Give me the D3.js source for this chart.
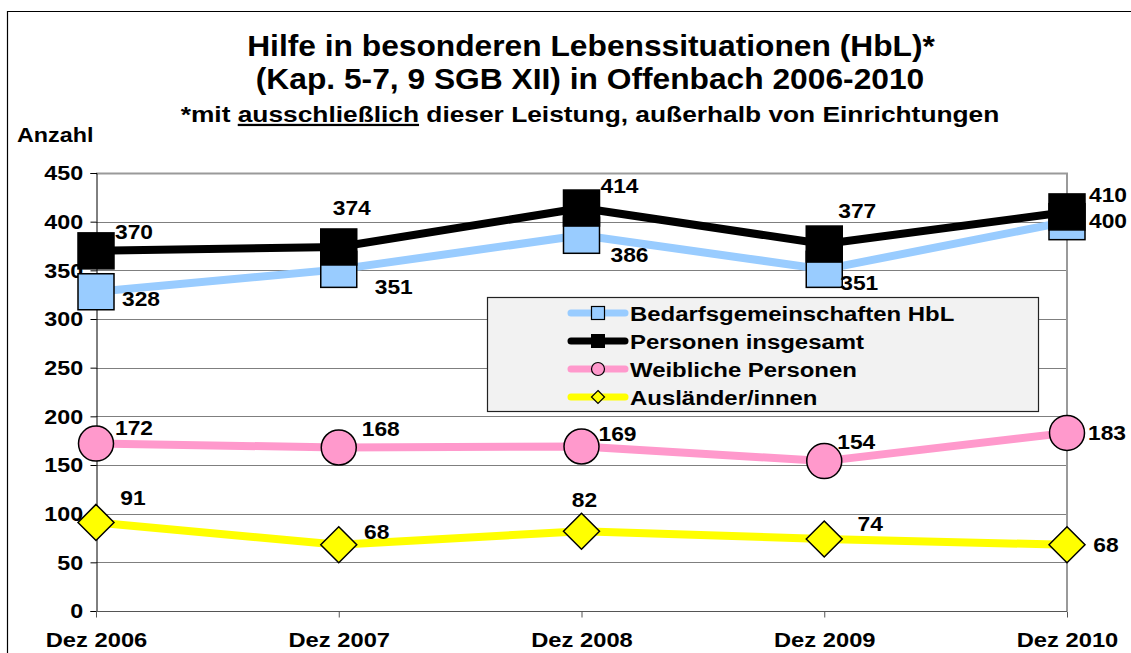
<!DOCTYPE html>
<html><head><meta charset="utf-8">
<script src="https://cdn.jsdelivr.net/npm/d3@7"></script>
<style>body{margin:0;background:#fff}svg{display:block}svg text{font-family:"Liberation Sans",Arial,sans-serif;font-weight:bold}</style>
</head><body><svg id="c" width="1131" height="653"></svg>
<script>
const categories = ["Dez 2006","Dez 2007","Dez 2008","Dez 2009","Dez 2010"];
const yTicks = [0,50,100,150,200,250,300,350,400,450];
const bedarfsgemeinschaften = [328,351,386,351,400];
const personenInsgesamt = [370,374,414,377,410];
const weiblichePersonen = [172,168,169,154,183];
const auslaender = [91,68,82,74,68];
const seriesNames = ["Bedarfsgemeinschaften HbL","Personen insgesamt","Weibliche Personen","Ausländer/innen"];

// label offsets (layout, not data)
const labelOffsets = {
  bed: [[45,8],[55,18],[48,20],[35,14],[41,0]],
  pers: [[38,-18],[13,-39],[38,-22],[33,-33],[41,-16]],
  weib: [[38,-15],[42,-18],[36,-12],[32,-19],[40,1]],
  ausl: [[37,-24],[38,-12],[3,-31],[46,-15],[39,1]]
};

const FF = "'Liberation Sans', Arial, sans-serif";
const svg = d3.select("#c");
const x = d3.scalePoint().domain(categories).range([96,1067]);
const y = d3.scaleLinear().domain([0,450]).range([611,173]);

function txt(parent, tx, ty, size, sx, str, anchor){
  return parent.append("text").attr("transform",`translate(${tx},${ty}) scale(${sx},1)`)
    .attr("text-anchor",anchor||"start").attr("font-size",size).attr("fill","#000").text(str);
}

// outer frame
svg.append("path").attr("d","M7.5,660 V11.5 H1140").attr("fill","none").attr("stroke","#000").attr("stroke-width",1.2);

// gridlines
svg.append("g").selectAll("line").data(yTicks.filter(d=>d>0 && d<450)).join("line")
  .attr("x1",96).attr("x2",1067).attr("y1",d=>Math.round(y(d))+0.5).attr("y2",d=>Math.round(y(d))+0.5)
  .attr("stroke","#7f7f7f").attr("stroke-width",1);
// plot border top/right
svg.append("path").attr("d",`M96,${y(450)+0.5} H1067 V${y(0)}`).attr("fill","none").attr("stroke","#9a9a9a").attr("stroke-width",2);

// axes
const yAxis = d3.axisLeft(y).tickValues(yTicks).tickSize(6).tickPadding(6);
const gy = svg.append("g").attr("transform","translate(96.5,0)").call(yAxis);
gy.select(".domain").attr("stroke","#000");
gy.selectAll("line").attr("stroke","#000");
gy.selectAll("text").attr("font-size",21).attr("font-family",FF).attr("fill","#000").attr("transform","scale(1.11,1)");

const xAxis = d3.axisBottom(x).tickSize(6).tickPadding(15);
const gx = svg.append("g").attr("transform",`translate(0,${y(0)+0.5})`).call(xAxis);
gx.select(".domain").attr("stroke","#555").attr("d","M96,0H1067");
gx.selectAll("line").attr("stroke","#555");
gx.selectAll("text").attr("font-size",21).attr("font-family",FF).attr("fill","#000").attr("transform","scale(1.13,1)");

const line = d3.line().x((d,i)=>x(categories[i])).y(d=>y(d));

function drawSeries(vals, color, markerFn){
  svg.append("path").datum(vals).attr("d",line).attr("fill","none").attr("stroke",color).attr("stroke-width",8).attr("stroke-linejoin","round");
  const g = svg.append("g");
  vals.forEach((v,i)=>markerFn(g, x(categories[i]), y(v)));
}
function square(fill, stroke){ return (g,cx,cy)=>g.append("rect").attr("x",cx-18).attr("y",cy-18).attr("width",36).attr("height",36).attr("fill",fill).attr("stroke",stroke).attr("stroke-width",1.5); }
function circle(fill){ return (g,cx,cy)=>g.append("circle").attr("cx",cx).attr("cy",cy).attr("r",17.5).attr("fill",fill).attr("stroke","#000").attr("stroke-width",1.5); }
function diamond(fill){ return (g,cx,cy)=>g.append("path").attr("d",`M${cx},${cy-18}L${cx+18},${cy}L${cx},${cy+18}L${cx-18},${cy}Z`).attr("fill",fill).attr("stroke","#000").attr("stroke-width",1.5); }

drawSeries(auslaender,"#ffff00",diamond("#ffff00"));
drawSeries(weiblichePersonen,"#ff99cc",circle("#ff99cc"));
drawSeries(bedarfsgemeinschaften,"#99ccff",square("#99ccff","#000"));
drawSeries(personenInsgesamt,"#000",square("#000","#000"));

function labels(vals, offs){
  const g = svg.append("g");
  vals.forEach((d,i)=>{
    txt(g, x(categories[i])+offs[i][0], y(d)+offs[i][1], 20, 1.14, d, "middle").attr("dominant-baseline","central");
  });
}
labels(bedarfsgemeinschaften, labelOffsets.bed);
labels(personenInsgesamt, labelOffsets.pers);
labels(weiblichePersonen, labelOffsets.weib);
labels(auslaender, labelOffsets.ausl);

// legend
const lg = svg.append("g");
lg.append("rect").attr("x",487.5).attr("y",297.5).attr("width",551).attr("height",114).attr("fill","#f2f2f2").attr("stroke","#222").attr("stroke-width",1.2);
const legColors = ["#99ccff","#000","#ff99cc","#ffff00"];
const legMarkers = [
  (g,cx,cy)=>g.append("rect").attr("x",cx-6.5).attr("y",cy-6.5).attr("width",13).attr("height",13).attr("fill","#99ccff").attr("stroke","#000").attr("stroke-width",1.2),
  (g,cx,cy)=>g.append("rect").attr("x",cx-7).attr("y",cy-7).attr("width",14).attr("height",14).attr("fill","#000"),
  (g,cx,cy)=>g.append("circle").attr("cx",cx).attr("cy",cy).attr("r",6.5).attr("fill","#ff99cc").attr("stroke","#000").attr("stroke-width",1.2),
  (g,cx,cy)=>g.append("path").attr("d",`M${cx},${cy-6.5}L${cx+6.5},${cy}L${cx},${cy+6.5}L${cx-6.5},${cy}Z`).attr("fill","#ffff00").attr("stroke","#000").attr("stroke-width",1.2)
];
const legY = d3.scalePoint().domain(seriesNames).range([313,397]);
seriesNames.forEach((n,i)=>{
  const cy = legY(n);
  lg.append("line").attr("x1",571).attr("x2",625).attr("y1",cy).attr("y2",cy).attr("stroke",legColors[i]).attr("stroke-width",7).attr("stroke-linecap","round");
  legMarkers[i](lg,598,cy);
  txt(lg, 630, cy+1, 21, 1.14, n).attr("dominant-baseline","central");
});

// titles
txt(svg, 591, 56, 29, 1.095, "Hilfe in besonderen Lebenssituationen (HbL)*", "middle");
txt(svg, 590, 89, 29, 1.095, "(Kap. 5-7, 9 SGB XII) in Offenbach 2006-2010", "middle");
const sub = txt(svg, 590, 122, 22.5, 1.17, null, "middle");
sub.append("tspan").text("*mit ");
sub.append("tspan").attr("text-decoration","underline").text("ausschließlich");
sub.append("tspan").text(" dieser Leistung, außerhalb von Einrichtungen");
txt(svg, 17, 142, 21, 1.11, "Anzahl");
</script></body></html>
